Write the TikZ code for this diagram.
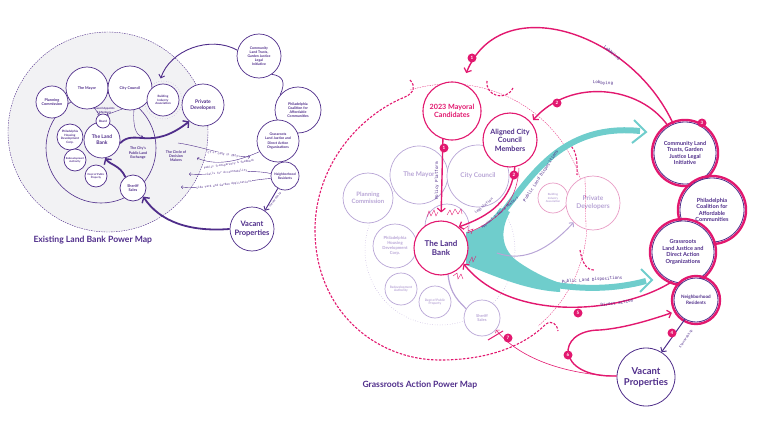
\documentclass[tikz,border=0pt]{standalone}
\usepackage{fontspec}
\setmainfont{Lato}
\newfontfamily\monof{DejaVu Sans Mono}
\usetikzlibrary{arrows.meta}
\definecolor{pur}{HTML}{4F2D8A}
\definecolor{lpur}{HTML}{B8A5D6}
\definecolor{mag}{HTML}{E2186F}
\definecolor{lpink}{HTML}{E89CC5}
\definecolor{tealc}{HTML}{6FCDCC}
\definecolor{bgc}{HTML}{F2F2F4}
\tikzset{
 lc/.style={circle,draw=pur,line width=0.7pt,fill=white,align=center,text=pur,inner sep=0pt,font=\bfseries\fontsize{3.8}{4.4}\selectfont},
 lcs/.style={lc,font=\bfseries\fontsize{3}{3.5}\selectfont},
 rc/.style={circle,draw=lpur,line width=0.7pt,fill=white,align=center,text=lpur,inner sep=0pt,font=\bfseries\fontsize{6.5}{7.6}\selectfont},
 rcs/.style={rc,font=\bfseries\fontsize{3.6}{4.3}\selectfont},
 mcirc/.style={circle,draw=mag,line width=1.1pt,fill=white,align=center,inner sep=0pt,font=\bfseries\fontsize{7.2}{8.4}\selectfont},
 grp/.style={circle,draw=pur,line width=0.8pt,fill=white,align=center,text=pur,inner sep=0pt,font=\bfseries\fontsize{5.6}{6.6}\selectfont},
 ring/.style={draw=mag,line width=2.4pt},
 badge/.style={circle,fill=mag,text=white,minimum size=9pt,inner sep=0pt,font=\bfseries\fontsize{4.5}{5}\selectfont},
 lab/.style={font=\monof\fontsize{4.2}{4.6}\selectfont,text=pur,inner sep=0.5pt},
 llab/.style={font=\monof\fontsize{2.8}{3.2}\selectfont,text=pur,inner sep=0.4pt,fill=white},
 bigarr/.style={pur,line width=1.8pt,-{Straight Barb[length=4pt,width=9pt,line width=1.4pt]}},
 medarr/.style={pur,line width=0.9pt,-{Straight Barb[length=3pt,width=6pt]}},
 thinarr/.style={pur,line width=0.4pt,-{Straight Barb[length=1.5pt,width=3pt]}},
 magarr/.style={mag,line width=1.4pt,-{Straight Barb[length=3.5pt,width=8pt,line width=1.2pt]}},
 tband/.style={tealc,line width=6pt},
 thead/.style={tealc,line width=2pt,line join=miter},
 spike/.style={mag,line width=0.4pt},
 mdash/.style={mag,line width=1.1pt,dash pattern=on 2.5pt off 1.5pt},
}
\begin{document}
\begin{tikzpicture}[x=1pt,y=-1pt]
\useasboundingbox (0,0) rectangle (760,428);

%% ================= LEFT MAP =================
\fill[bgc] (108,132) circle (100);
\draw[pur,line width=0.4pt,dash pattern=on 1.5pt off 1pt] (108,132) circle (100);
\draw[pur,line width=0.6pt] (101,148) circle (55);
\draw[lpur,line width=0.5pt,dotted] (163,100) circle (19);

\node[lc,minimum size=32pt] (pcL) at (52,102) {Planning\\Commission};
\node[lc,minimum size=42pt] (myL) at (87,88) {The Mayor};
\node[lc,minimum size=44pt] (ccL) at (130,88) {City Council};
\node[lcs,minimum size=32pt] (biaL) at (163,100) {Building\\Industry\\Association};
\node[lc,minimum size=42pt,font=\bfseries\fontsize{5}{6}\selectfont] (pdL) at (203,105) {Private\\Developers};
\node[lc,minimum size=36pt,font=\bfseries\fontsize{5}{5.8}\selectfont] (lbL) at (102,140) {The Land\\Bank};
\node[lcs,minimum size=14pt] (bdL) at (103,121) {Board};
\node[lcs,minimum size=26pt] (phL) at (70,137) {Philadelphia\\Housing\\Development\\Corp.};
\node[lcs,minimum size=22pt,font=\bfseries\fontsize{2.6}{3.1}\selectfont] (raL) at (75,160) {Redevelopment\\Authority};
\node[lcs,minimum size=22pt,font=\bfseries\fontsize{2.6}{3.1}\selectfont] (dpL) at (96,176) {Dept of Public\\Property};
\node[lc,minimum size=26pt] (ssL) at (133,188) {Sheriff\\Sales};

\node[align=center,text=pur,font=\bfseries\fontsize{2.8}{3.2}\selectfont] (apL) at (104,110.5) {Council Appoints\\3 Members};
\node[align=center,text=pur,font=\bfseries\fontsize{3.6}{4.2}\selectfont] (exL) at (138,153) {The City's\\Public Land\\Exchange};
\node[align=center,text=pur,font=\bfseries\fontsize{3.6}{4.2}\selectfont] (dmL) at (176,156) {The Circle of\\Decision\\Makers};

\draw[thinarr] (myL.-70) -- (bdL.120);
\draw[thinarr] (ccL.-110) -- (bdL.60);
\draw[thinarr] (ccL.-80) .. controls (133,125) and (135,135) .. (143,137);

\node[lc,minimum size=44pt,font=\bfseries\fontsize{3.5}{4.1}\selectfont] (cltL) at (259,56) {Community\\Land Trusts,\\Garden Justice\\Legal\\Initiative};
\node[lc,minimum size=46pt,font=\bfseries\fontsize{3.6}{4.2}\selectfont] (pcaL) at (298,110) {Philadelphia\\Coalition for\\Affordable\\Communities};
\node[lc,minimum size=42pt,font=\bfseries\fontsize{3.5}{4.1}\selectfont] (grL) at (278,141) {Grassroots\\Land Justice and\\Direct Action\\Organizations};
\node[lc,minimum size=28pt,font=\bfseries\fontsize{3.3}{3.9}\selectfont] (nrL) at (285,176) {Neighborhood\\Residents};
\node[lc,minimum size=44pt,font=\bfseries\fontsize{7.5}{8.8}\selectfont] (vpL) at (252,229) {Vacant\\Properties};

\draw[pur,line width=0.7pt] (cltL.-55) .. controls (283,76) and (286,82) .. (pcaL.140);
\draw[medarr,shorten >=6pt] (cltL.165) .. controls (210,35) and (170,50) .. (biaL.105);
\draw[bigarr] (lbL.-10) .. controls (135,128) and (150,152) .. (pdL.-130);
\draw[bigarr] (ssL.125) .. controls (120,165) and (110,165) .. (lbL.-80);
\draw[bigarr] (vpL.180) .. controls (190,232) and (160,222) .. (ssL.-40);
\draw[medarr] (nrL.-120) -- (vpL.55);
\node[llab,fill=none,rotate=52] (stL) at (275,200) {Stewardship};

% input lines of left map
\coordinate (d1a) at (178,143);
\coordinate (d1b) at (250,157);
\draw[thinarr] (d1a) .. controls (200,146) and (225,156) .. (d1b);
\node[llab,rotate=-8] (l1) at (222,154) {CLT of Land in 2023};
\coordinate (d2) at (197,158);
\draw[thinarr] (grL.-150) .. controls (245,158) and (220,168) .. (d2);
\node[llab,rotate=9] (l2) at (229,164.5) {Public Transparency \& Feedback};
\coordinate (d3) at (189,174);
\draw[thinarr] (nrL.170) .. controls (245,168) and (215,176) .. (d3);
\node[llab,rotate=6] (l3) at (227,172.5) {Calls for Accountability};
\coordinate (d4) at (181,187);
\draw[thinarr] (nrL.-170) .. controls (245,180) and (215,190) .. (d4);
\node[llab,rotate=7] (l4) at (224,185) {Side Yard and Garden Applications};

\node[text=pur,font=\bfseries\fontsize{8.6}{10}\selectfont,anchor=west] (tL) at (30,240) {Existing Land Bank Power Map};

%% ================= RIGHT MAP =================
\draw[lpur,line width=0.5pt,dotted] (440,250) circle (75);
\draw[mag,line width=0.3pt,dash pattern=on 1.5pt off 1pt] (410,90) arc[start angle=253,end angle=410,radius=137];
\draw[mdash] (410,80) .. controls (416,86) and (414,93) .. (405,97) .. controls (360,115) and (315,165) .. (315,230) .. controls (315,310) and (375,360) .. (440,360) .. controls (490,360) and (525,345) .. (546,324) .. controls (552,320) and (557,324) .. (558,331);
\draw[mdash] (487,81) .. controls (485,96) and (506,102) .. (513,88);
\draw[mdash] (564,145) .. controls (572,143) and (578,150) .. (577,175);
\draw[mdash] (580,250) .. controls (582,262) and (586,270) .. (594,270);

\node[rc,minimum size=50pt,font=\bfseries\fontsize{6}{7.2}\selectfont] (pcR) at (368,198) {Planning\\Commission};
\draw[lpur,line width=0.7pt] (447,226) circle (22);
\node[rc,minimum size=58pt] (myR) at (419,175) {The Mayor};
\node[rc,minimum size=62pt] (ccR) at (478,176) {City Council};
\node[rcs,minimum size=44pt,font=\bfseries\fontsize{4.2}{5}\selectfont] (phR) at (395,246) {Philadelphia\\Housing\\Development\\Corp.};
\node[rcs,minimum size=32pt,font=\bfseries\fontsize{3.2}{3.8}\selectfont] (raR) at (401,289) {Redevelopment\\Authority};
\node[rcs,minimum size=32pt,font=\bfseries\fontsize{3.2}{3.8}\selectfont] (dpR) at (435,302) {Dept of Public\\Property};
\node[rcs,minimum size=36pt,font=\bfseries\fontsize{4}{4.8}\selectfont] (ssR) at (482,318) {Sheriff\\Sales};
\node[rcs,minimum size=30pt,draw=lpink,text=lpur,font=\bfseries\fontsize{2.8}{3.3}\selectfont] (biaR) at (553,198) {Building\\Industry\\Association};
\node[rc,minimum size=54pt,draw=lpink,font=\bfseries\fontsize{6.6}{7.8}\selectfont] (pdR) at (593,203) {Private\\Developers};
\draw[mag,line width=0.3pt,dash pattern=on 1.5pt off 1pt] (585,178) -- (586,228);

% teal wedge and bands
\coordinate (tu0) at (485,234);
\coordinate (tu1) at (640,131);
\coordinate (tl0) at (485,262);
\coordinate (tl1) at (646,281);
\fill[tealc] (466,232) .. controls (480,231) and (492,220) .. (500,208) -- (510,212) .. controls (500,230) and (500,250) .. (520,263) .. controls (532,271) and (545,278) .. (560,283) -- (560,292) .. controls (525,290) and (495,276) .. (466,265) -- cycle;
\draw[tband] (tu0) .. controls (522,195) and (550,122) .. (tu1);
\draw[thead] (634,120) -- (646,132) -- (632,143);
\draw[tband] (tl0) .. controls (530,285) and (590,296) .. (tl1);
\draw[thead] (641,269) -- (652,280) -- (640,292);
\node[lab,rotate=57] (tl1l) at (541,176) {Public Land Dispositions};
\node[lab,rotate=4] (tl2l) at (592,280) {Public Land Dispositions};

\draw[lpur,line width=1pt,-{Straight Barb[length=3pt,width=6pt]}] (497,253) .. controls (525,263) and (550,248) .. (pdR.-135);
\draw[lpur,line width=1.2pt] (448,274) .. controls (450,295) and (460,302) .. (ssR.150);

\node[mcirc,minimum size=54pt,text=pur,font=\bfseries\fontsize{8}{9.2}\selectfont] (lbR) at (441,248) {The Land\\Bank};

% group circles
\draw[ring] (685,153) circle (33);
\node[grp,minimum size=62pt] (cltR) at (685,153) {Community Land\\Trusts, Garden\\Justice Legal\\Initiative};
\draw[ring] (712,210) circle (34);
\node[grp,minimum size=64pt] (pcaR) at (712,210) {Philadelphia\\Coalition for\\Affordable\\Communities};
\draw[ring] (683,252) circle (33);
\node[grp,minimum size=62pt] (grR) at (683,252) {Grassroots\\Land Justice and\\Direct Action\\Organizations};
\draw[ring] (696,300) circle (24);
\node[grp,minimum size=44pt,font=\bfseries\fontsize{4.6}{5.5}\selectfont] (nrR) at (696,300) {Neighborhood\\Residents};
\node[grp,minimum size=58pt,font=\bfseries\fontsize{9.5}{11}\selectfont] (vpR) at (646,377) {Vacant\\Properties};

\node[mcirc,minimum size=58pt,text=mag] (mcR) at (452,111) {2023 Mayoral\\Candidates};
\node[mcirc,minimum size=54pt,text=pur] (accR) at (510,140) {Aligned City\\Council\\Members};

% magenta arrows
\draw[magarr,shorten >=11pt] (cltR.112) .. controls (630,30) and (500,-10) .. (mcR.70);
\node[badge] (b1a) at (472,58) {1};
\node[lab,rotate=-40] (lob1) at (612,53) {Lobbying};
\draw[magarr,shorten >=3pt] (cltR.122) .. controls (640,85) and (570,78) .. (accR.40);
\node[badge] (b2a) at (557,103) {2};
\node[lab,rotate=-3] (lob2) at (603,83) {Lobbying};

\draw[magarr,shorten >=8pt] (mcR.252) -- (lbR.north);
\node[badge] (b1b) at (444,148) {1};
\node[lab,rotate=90] (pp) at (437,181) {Policy Platform};

\draw[magarr] (accR.-80) .. controls (512,200) and (490,216) .. (lbR.50);
\draw[mag,line width=0.5pt] (519,168) .. controls (517,205) and (495,222) .. (467,233);
\node[badge] (b2b) at (514,175) {2};
\node[lab,rotate=40,font=\monof\fontsize{3.4}{3.8}\selectfont] (leg) at (484,206) {Legislation};
\node[lab,rotate=40,font=\monof\fontsize{3.4}{3.8}\selectfont] (apb) at (500,213) {Appoint 3 Board Members};

\draw[magarr] (grR.-110) .. controls (620,315) and (510,322) .. (lbR.-35);
\node[badge] (b5) at (578,313) {5};
\node[lab,rotate=8] (da) at (617,303) {Direct action};

\draw[magarr,shorten >=5pt] (vpR.178) .. controls (555,378) and (555,330) .. (600,330) .. controls (625,328) and (650,320) .. (nrR.-150);
\node[badge] (b6) at (568,355) {6};

\draw[mag,line width=0.6pt,-{Straight Barb[length=2pt,width=5pt]}] (vpR.178) .. controls (570,375) and (520,360) .. (ssR.-40);
\draw[mag,line width=1pt] (488,340) -- (503,331);
\node[badge] (b7) at (508,338) {7};

\draw[pur,line width=1pt,-{Straight Barb[length=3pt,width=7pt]}] (nrR.-120) -- (vpR.58);
\node[lab,rotate=55,font=\monof\fontsize{3.2}{3.6}\selectfont] (stR) at (686,339) {Stewardship};
\node[badge] (b4) at (672,333) {4};
\node[badge] (b3) at (702,123) {3};

% spikes around the Land Bank
\draw[spike] (427,217) -- (429,211) -- (431,216) -- (434,210) -- (436,216) -- (438,212);
\draw[spike] (447,215) -- (450,210) -- (452,215) -- (455,209) -- (458,214) -- (461,209) -- (462,214);
\draw[spike] (464,229) -- (468,226) -- (468,231) -- (473,229) -- (471,234);
\draw[spike] (469,263) -- (472,257) -- (473,262) -- (476,256);
\draw[spike] (453,276) -- (457,273) -- (458,279) -- (461,274) -- (463,279);

\node[text=pur,font=\bfseries\fontsize{8.6}{10}\selectfont,anchor=west] (tR) at (359,385) {Grassroots Action Power Map};
\end{tikzpicture}
\end{document}
